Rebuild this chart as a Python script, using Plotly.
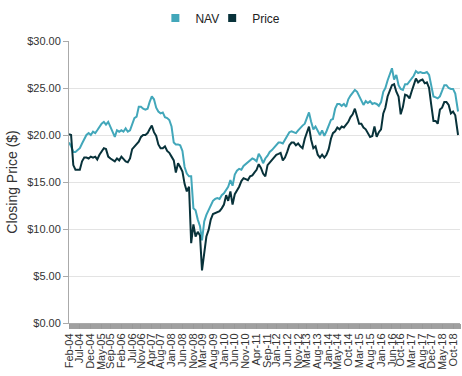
import plotly.graph_objects as go

# Monthly closing values (Feb-2004 .. Dec-2018)
nav = [
    19.2, 18.8, 18.2, 18.2, 18.4, 18.6, 19.1, 19.5, 20.0, 20.2,
    20.0, 20.35, 20.2, 20.5, 20.9, 21.2, 21.4, 21.1, 21.4, 20.9,
    20.35, 19.8, 20.5, 20.35, 20.5, 20.35, 20.7, 20.35, 20.5, 21.1,
    21.8, 21.95, 23.0, 23.0, 22.8, 22.7, 22.8, 23.5, 24.1, 23.8,
    22.9, 22.5, 22.3, 22.4, 21.9, 21.8, 21.6, 20.9, 19.2, 19.0,
    19.0, 18.9, 18.3, 16.6, 15.9, 15.6, 15.6, 12.2, 12.0, 11.0,
    10.3, 8.8, 10.8, 11.5, 12.0, 12.5, 13.0, 13.2, 13.3, 13.2,
    13.6, 13.8, 14.1, 14.5, 15.2, 14.6, 15.8, 16.2, 16.4, 16.3,
    16.7, 16.9, 17.0, 17.3, 17.5, 17.4, 17.2, 18.0, 17.6, 17.0,
    17.5, 17.8, 18.2, 18.4, 18.7, 18.9, 19.2, 19.2, 19.1, 19.5,
    20.0, 20.3, 20.4, 20.3, 20.2, 20.5, 20.8, 21.0, 21.2, 21.8,
    22.4, 21.4, 20.6, 20.9, 20.35, 20.0, 20.5, 19.9, 20.4, 21.0,
    21.6, 21.7, 22.8, 23.3, 23.3, 23.1, 23.3, 23.0, 23.8, 24.2,
    24.5, 24.8, 24.6, 24.1, 23.6, 23.2, 23.6, 23.4, 23.6, 23.3,
    23.4, 23.3, 23.1, 23.5, 24.6, 25.0, 25.8, 26.5, 27.1, 25.9,
    26.4, 25.3, 24.9, 24.8, 25.4, 25.4, 25.7, 26.0, 26.3, 26.8,
    26.6, 26.7, 26.6, 26.6, 26.7, 26.4, 25.3, 24.1, 24.0, 23.9,
    24.1, 24.6, 25.3, 25.3, 25.0, 24.9, 24.9, 24.4, 22.5,
]
price = [
    20.1, 20.0, 16.8, 16.3, 16.3, 16.3, 17.2, 17.6, 17.6, 17.5,
    17.7, 17.6, 17.7, 17.4, 17.9, 18.2, 18.6, 18.5, 17.7, 17.5,
    17.3, 17.2, 17.5, 17.3, 17.7, 17.4, 17.2, 17.1, 17.5, 18.5,
    18.8, 19.1, 19.3, 19.8, 20.0, 20.0, 20.2, 20.6, 21.0, 20.3,
    19.9, 19.0, 18.6, 18.6, 18.8, 18.3, 18.1, 17.7, 17.3, 16.0,
    17.0, 16.6, 16.1, 14.8, 14.0, 14.5, 8.5, 10.5, 9.2, 9.7,
    9.3, 5.6, 7.4, 9.2, 9.9, 11.0, 11.6, 11.7, 11.8, 11.9,
    12.2, 12.6, 13.6, 13.0, 14.0, 12.6, 13.7, 14.1, 14.5, 15.1,
    15.4, 15.3, 15.2, 15.6, 15.7, 16.0, 16.3, 16.9, 16.5, 15.9,
    15.6, 16.8, 17.1, 17.3, 17.6, 17.9, 18.0, 18.1, 17.3, 17.6,
    18.2, 18.9, 19.2, 19.2, 18.9, 19.1, 18.8, 18.6, 19.6, 20.2,
    20.9, 19.5, 18.6, 18.8, 17.9, 17.6, 17.9, 17.6, 17.9, 18.5,
    19.6, 20.2, 20.4, 20.8, 20.6, 20.9, 20.8, 21.1, 21.4, 21.9,
    22.2, 22.8, 21.8, 21.2, 21.2, 20.8, 20.6, 20.2, 19.8, 19.9,
    20.9, 19.8, 20.3, 20.6, 22.3, 22.9, 24.1, 24.7, 25.3, 25.4,
    24.6, 24.1, 22.2, 23.0, 24.3, 24.2, 23.9, 24.6, 25.4, 26.0,
    25.6, 25.8, 25.9, 25.5, 25.6, 25.0, 23.2, 21.5, 21.5, 21.2,
    22.7, 22.9, 23.5, 23.5, 23.2, 22.3, 22.5, 22.1, 20.0,
]
dates = [f"{2004 + (1 + i) // 12}-{(1 + i) % 12 + 1:02d}-15" for i in range(len(nav) - 1)]
dates.append("2018-12-24")

tick_labels = [
    "Feb-04", "Jul-04", "Dec-04", "May-05", "Sep-05", "Feb-06", "Jul-06", "Nov-06",
    "Apr-07", "Aug-07", "Jan-08", "Jun-08", "Nov-08", "Mar-09", "Aug-09", "Jan-10",
    "Jun-10", "Nov-10", "Apr-11", "Sep-11", "Jan-12", "Jun-12", "Nov-12", "Mar-13",
    "Aug-13", "Jan-14", "May-14", "Oct-14", "Mar-15", "Aug-15", "Jan-16", "Jun-16",
    "Oct-16", "Mar-17", "Aug-17", "Dec-17", "May-18", "Oct-18",
]
months = {"Jan": 1, "Feb": 2, "Mar": 3, "Apr": 4, "May": 5, "Jun": 6, "Jul": 7,
          "Aug": 8, "Sep": 9, "Oct": 10, "Nov": 11, "Dec": 12}
tick_vals = [f"20{t[4:]}-{months[t[:3]]:02d}-15" for t in tick_labels]

NAV_COLOR = "#42a7ba"
PRICE_COLOR = "#08323a"
FONT = "Arial, Liberation Sans, sans-serif"

fig = go.Figure()
fig.add_trace(go.Scatter(x=dates, y=nav, mode="lines", name="NAV",
                         line=dict(color=NAV_COLOR, width=2), showlegend=False))
fig.add_trace(go.Scatter(x=dates, y=price, mode="lines", name="Price",
                         line=dict(color=PRICE_COLOR, width=2), showlegend=False))
# legend entries with square swatches
fig.add_trace(go.Scatter(x=[None], y=[None], mode="markers", name="NAV",
                         marker=dict(symbol="square", size=8, color=NAV_COLOR)))
fig.add_trace(go.Scatter(x=[None], y=[None], mode="markers", name="Price",
                         marker=dict(symbol="square", size=8, color=PRICE_COLOR)))

fig.update_layout(
    width=462, height=376,
    margin=dict(l=69, r=2, t=41, b=53),
    paper_bgcolor="white", plot_bgcolor="white",
    font=dict(family=FONT, size=11, color="#333333"),
    legend=dict(orientation="h", xref="container", yref="container",
                x=0.49, xanchor="center", y=1 - 18 / 376, yanchor="middle",
                font=dict(size=12, color="#222222"),
                itemwidth=30, tracegroupgap=0, indentation=-12),
)
fig.update_xaxes(
    type="date", automargin=False,
    range=["2004-02-15", "2019-01-20"],
    tickmode="array", tickvals=tick_vals, ticktext=tick_labels,
    tickangle=-90, tickfont=dict(size=11, color="#333333"),
    showgrid=False, showline=True, linecolor="#aaaaaa",
    ticks="outside", ticklen=5, tickcolor="#999999",
    minor=dict(ticks="outside", ticklen=5, tickcolor="#a0a0a0",
               dtick=7 * 86400000, showgrid=False),
)
fig.update_yaxes(
    automargin=False,
    range=[0, 30], dtick=5, tickprefix="$", tickformat=".2f",
    tickfont=dict(size=11, color="#333333"),
    showgrid=True, gridcolor="#e3e3e3", zeroline=False,
    showline=True, linecolor="#aaaaaa", linewidth=1,
    ticks="outside", ticklen=5, tickcolor="#aaaaaa",
    title=dict(text="Closing Price ($)", font=dict(size=14, color="#333333"), standoff=6),
)

fig.write_html(
    "out.html",
    config={"displayModeBar": False},
    post_script="document.body.style.margin='0';document.body.style.overflow='hidden';",
)
